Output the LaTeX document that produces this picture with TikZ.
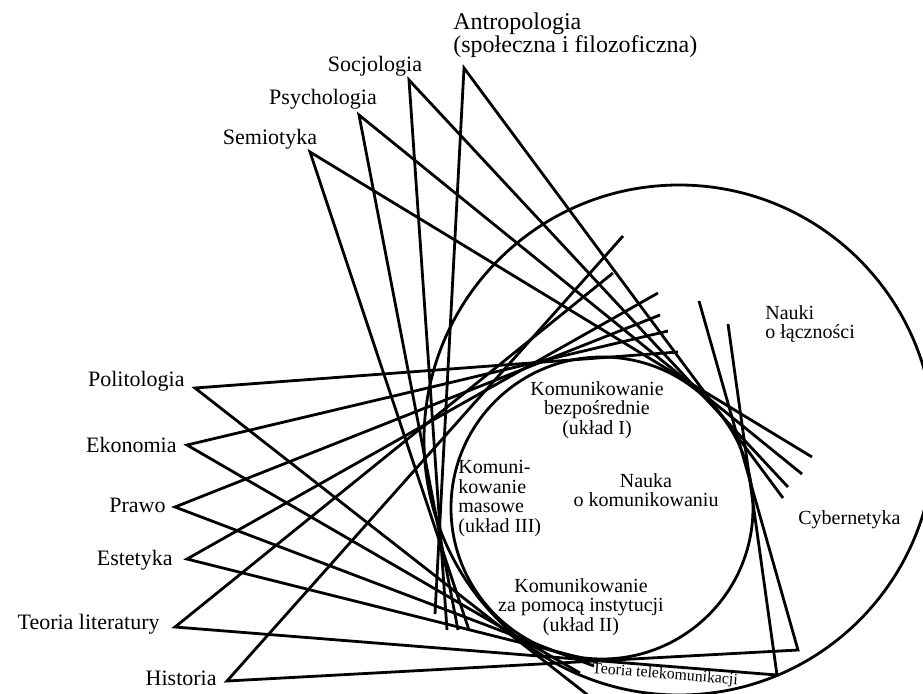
\documentclass[tikz,border=0pt]{standalone}
\usepackage{fontspec}
\setmainfont{Liberation Serif}
\tikzset{px/.style={x=0.5pt,y=-0.5pt},
   lbl/.style={font=\fontsize{11}{11.5}\selectfont, inner sep=0pt},
   inn/.style={font=\fontsize{10}{9.8}\selectfont, inner sep=0pt},
   arm/.style={line width=1.4pt, line join=miter}}

\begin{document}
\begin{tikzpicture}[px]
\useasboundingbox (0,0) rectangle (923,693);
\clip (0,0) rectangle (923,693);

\coordinate (big) at (679,440);
\coordinate (small) at (602,508);
\draw[arm] (big) circle [radius=255];
\draw[arm] (small) circle [radius=151];

\node[lbl, anchor=north west, align=left, font=\fontsize{12}{11.6}\selectfont] (ant) at (453,12) {Antropologia\\(społeczna i filozoficzna)};
\node[lbl, anchor=base] (soc) at (375,71) {Socjologia};
\node[lbl, anchor=base] (psy) at (323,104) {Psychologia};
\node[lbl, anchor=base] (sem) at (270,144) {Semiotyka};
\node[lbl, anchor=base east] (pol) at (185,386) {Politologia};
\node[lbl, anchor=base east] (eko) at (177,452) {Ekonomia};
\node[lbl, anchor=base east] (pra) at (166,512) {Prawo};
\node[lbl, anchor=base east] (est) at (173,565) {Estetyka};
\node[lbl, anchor=base east] (tl) at (160,629) {Teoria literatury};
\node[lbl, anchor=base east] (his) at (217,685) {Historia};

\node[inn, anchor=north west, align=left] (lacz) at (765,305) {Nauki\\o łączności};
\node[inn, anchor=base west] (cyb) at (798,524) {Cybernetyka};
\node[inn, anchor=north, align=center] (bez) at (597,381) {Komunikowanie\\bezpośrednie\\(układ I)};
\node[inn, anchor=north, align=center] (nauka) at (646,473) {Nauka\\o komunikowaniu};
\node[inn, anchor=north west, align=left] (mas) at (458,460) {Komuni-\\kowanie\\masowe\\(układ III)};
\node[inn, anchor=north, align=center] (ins) at (581,578) {Komunikowanie\\za pomocą instytucji\\(układ II)};
\node[inn, font=\fontsize{7.9}{9}\selectfont, rotate=-4.5] (tel) at (665,675) {Teoria telekomunikacji};

% wierzcholki
\coordinate (antv) at (464,68);
\coordinate (socv) at (409,80);
\coordinate (psyv) at (359,115);
\coordinate (semv) at (310,152);
\coordinate (polv) at (195,388);
\coordinate (ekov) at (187,445);
\coordinate (prav) at (175,507);
\coordinate (estv) at (187,559);
\coordinate (tlv) at (175,627);
\coordinate (hisv) at (227,681);
\coordinate (telA) at (798,650);
\coordinate (telB) at (777,675);

% konce
\coordinate (antl) at (435,614);
\coordinate (socl) at (447,630);
\coordinate (psyl) at (458,630);
\coordinate (seml) at (469,630);
\coordinate (antr) at (783,498);
\coordinate (socr) at (788,487);
\coordinate (psyr) at (802,474);
\coordinate (semr) at (812,457);
\coordinate (polu) at (678,352);
\coordinate (ekou) at (668,331);
\coordinate (prau) at (660,315);
\coordinate (estu) at (658,293);
\coordinate (tlu) at (613,273);
\coordinate (hisu) at (623,236);
\coordinate (poll) at (589,696);
\coordinate (ekol) at (580,673);
\coordinate (pral) at (594,666);
\coordinate (estl) at (598,662);
\coordinate (telAu) at (699,301);
\coordinate (telBu) at (728,324);

\draw[arm] (antl) -- (antv) -- (antr);
\draw[arm] (socl) -- (socv) -- (socr);
\draw[arm] (psyl) -- (psyv) -- (psyr);
\draw[arm] (seml) -- (semv) -- (semr);
\draw[arm] (polu) -- (polv) -- (poll);
\draw[arm] (ekou) -- (ekov) -- (ekol);
\draw[arm] (prau) -- (prav) -- (pral);
\draw[arm] (estu) -- (estv) -- (estl);
\draw[arm] (tlu) -- (tlv) -- (telB) -- (telBu);
\draw[arm] (hisu) -- (hisv) -- (telA) -- (telAu);
\end{tikzpicture}
\end{document}
